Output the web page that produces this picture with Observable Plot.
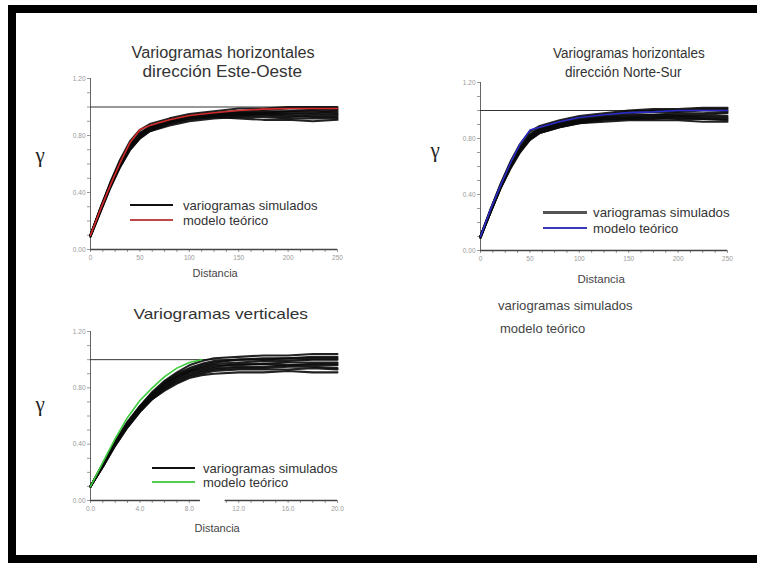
<!DOCTYPE html>
<html>
<head>
<meta charset="utf-8">
<script src="https://cdn.jsdelivr.net/npm/d3@7"></script>
<script src="https://cdn.jsdelivr.net/npm/@observablehq/plot@0.6"></script>
<style>
  html, body { margin: 0; padding: 0; background: #fff; overflow: hidden; font-family: "Liberation Sans", Arial, sans-serif; }
  #page { position: relative; width: 757px; height: 563px; overflow: hidden; background: #fff; }
  .frame { position: absolute; left: 8px; top: 5px; width: 741px; height: 542px; box-sizing: content-box;
           border-left: 8px solid #000; border-top: 8px solid #000; border-bottom: 8px solid #000; border-right: 0; }
  .t { position: absolute; white-space: nowrap; color: #333; line-height: 1; }
  .sw { position: absolute; height: 2px; }
  svg { position: absolute; overflow: visible; }
</style>
</head>
<body>
<div id="page"><div class="frame"></div></div>
<script>
// Sill of the theoretical model (normalised variance)
const sill = 1.0;

// --- Horizontal variograms, East-West direction ---
const distEO = [0, 10, 20, 30, 40, 50, 60, 80, 100, 125, 150, 175, 200, 225, 250];
const modelEO = [0.10, 0.28, 0.45, 0.61, 0.75, 0.84, 0.87, 0.91, 0.94, 0.96, 0.975, 0.985, 0.99, 0.99, 0.99];
const simEO = [
  [0.10, 0.29, 0.47, 0.63, 0.76, 0.84, 0.88, 0.92, 0.95, 0.97, 0.99, 0.99, 1.00, 1.00, 1.00],
  [0.10, 0.28, 0.45, 0.60, 0.72, 0.80, 0.85, 0.90, 0.93, 0.95, 0.96, 0.97, 0.97, 0.98, 0.98],
  [0.09, 0.27, 0.44, 0.59, 0.71, 0.79, 0.84, 0.89, 0.92, 0.94, 0.95, 0.96, 0.96, 0.96, 0.97],
  [0.10, 0.28, 0.46, 0.61, 0.73, 0.81, 0.86, 0.90, 0.93, 0.94, 0.94, 0.95, 0.95, 0.95, 0.95],
  [0.10, 0.27, 0.44, 0.58, 0.70, 0.78, 0.83, 0.88, 0.91, 0.93, 0.94, 0.94, 0.93, 0.94, 0.94],
  [0.09, 0.26, 0.43, 0.58, 0.70, 0.78, 0.83, 0.87, 0.90, 0.92, 0.93, 0.93, 0.92, 0.92, 0.92],
  [0.10, 0.28, 0.45, 0.60, 0.72, 0.80, 0.85, 0.89, 0.92, 0.93, 0.92, 0.91, 0.91, 0.90, 0.91],
  [0.10, 0.29, 0.46, 0.62, 0.74, 0.82, 0.86, 0.91, 0.94, 0.96, 0.97, 0.98, 0.99, 0.99, 0.99],
  [0.10, 0.27, 0.45, 0.60, 0.72, 0.80, 0.84, 0.89, 0.92, 0.94, 0.95, 0.95, 0.94, 0.93, 0.93],
  [0.10, 0.28, 0.46, 0.61, 0.73, 0.81, 0.85, 0.90, 0.93, 0.95, 0.96, 0.96, 0.97, 0.97, 0.96]
];

// --- Horizontal variograms, North-South direction ---
const distNS = [0, 10, 20, 30, 40, 50, 60, 80, 100, 125, 150, 175, 200, 225, 250];
const modelNS = [0.10, 0.29, 0.46, 0.62, 0.76, 0.86, 0.88, 0.92, 0.95, 0.97, 0.985, 0.99, 1.00, 1.00, 1.00];
const simNS = [
  [0.10, 0.29, 0.47, 0.63, 0.76, 0.85, 0.89, 0.93, 0.96, 0.98, 1.00, 1.01, 1.01, 1.02, 1.02],
  [0.10, 0.28, 0.45, 0.60, 0.72, 0.81, 0.86, 0.90, 0.93, 0.95, 0.96, 0.97, 0.97, 0.97, 0.98],
  [0.09, 0.27, 0.44, 0.59, 0.71, 0.79, 0.84, 0.88, 0.91, 0.93, 0.94, 0.94, 0.95, 0.94, 0.94],
  [0.10, 0.28, 0.46, 0.61, 0.73, 0.82, 0.87, 0.91, 0.94, 0.96, 0.98, 0.99, 0.99, 1.00, 1.00],
  [0.10, 0.27, 0.44, 0.58, 0.70, 0.79, 0.84, 0.88, 0.91, 0.92, 0.93, 0.93, 0.93, 0.92, 0.92],
  [0.09, 0.27, 0.44, 0.59, 0.71, 0.80, 0.85, 0.89, 0.92, 0.94, 0.95, 0.96, 0.96, 0.96, 0.96],
  [0.10, 0.28, 0.45, 0.60, 0.72, 0.81, 0.86, 0.90, 0.92, 0.94, 0.95, 0.95, 0.96, 0.95, 0.95],
  [0.10, 0.29, 0.46, 0.62, 0.74, 0.83, 0.88, 0.92, 0.95, 0.97, 0.99, 1.00, 1.00, 1.01, 1.01],
  [0.10, 0.27, 0.45, 0.60, 0.72, 0.80, 0.85, 0.89, 0.92, 0.94, 0.94, 0.95, 0.94, 0.94, 0.93],
  [0.10, 0.28, 0.46, 0.61, 0.73, 0.82, 0.86, 0.91, 0.93, 0.95, 0.97, 0.97, 0.98, 0.98, 0.99]
];

// --- Vertical variograms ---
const distV = [0, 1, 2, 3, 4, 5, 6, 7, 8, 9, 10, 12, 14, 16, 18, 20];
const distModelV = [0, 1, 2, 3, 4, 5, 6, 7, 8, 9];
const modelV = [0.10, 0.27, 0.44, 0.59, 0.71, 0.80, 0.88, 0.94, 0.98, 1.00];
const simV = [
  [0.10, 0.26, 0.42, 0.56, 0.67, 0.77, 0.85, 0.91, 0.96, 0.99, 1.01, 1.02, 1.03, 1.03, 1.04, 1.04],
  [0.10, 0.25, 0.40, 0.54, 0.65, 0.75, 0.82, 0.88, 0.92, 0.95, 0.97, 0.98, 0.99, 0.99, 1.00, 1.00],
  [0.10, 0.25, 0.40, 0.53, 0.64, 0.73, 0.80, 0.86, 0.90, 0.92, 0.94, 0.95, 0.95, 0.96, 0.96, 0.96],
  [0.10, 0.24, 0.39, 0.52, 0.63, 0.72, 0.79, 0.84, 0.88, 0.90, 0.92, 0.93, 0.93, 0.93, 0.94, 0.93],
  [0.10, 0.25, 0.41, 0.55, 0.66, 0.76, 0.83, 0.89, 0.93, 0.96, 0.98, 1.00, 1.01, 1.01, 1.02, 1.02],
  [0.10, 0.24, 0.39, 0.52, 0.63, 0.72, 0.78, 0.83, 0.87, 0.89, 0.90, 0.91, 0.91, 0.92, 0.91, 0.91],
  [0.10, 0.25, 0.40, 0.54, 0.65, 0.74, 0.81, 0.87, 0.91, 0.93, 0.95, 0.97, 0.97, 0.98, 0.98, 0.98],
  [0.10, 0.25, 0.41, 0.55, 0.66, 0.75, 0.83, 0.88, 0.92, 0.94, 0.96, 0.96, 0.97, 0.96, 0.97, 0.97],
  [0.10, 0.24, 0.40, 0.53, 0.64, 0.73, 0.80, 0.85, 0.89, 0.91, 0.93, 0.94, 0.94, 0.95, 0.95, 0.94],
  [0.10, 0.26, 0.41, 0.55, 0.67, 0.76, 0.84, 0.90, 0.94, 0.97, 0.99, 1.00, 1.00, 1.01, 1.01, 1.01]
];

// Axis ticks
const yMajor = [0, 0.4, 0.8, 1.2];
const xTicksH = [0, 50, 100, 150, 200, 250];
const xTicksV = [0, 4, 8, 12, 16, 20];

const page = document.getElementById("page");

function panel(cfg) {
  const rows = cfg.sims.flatMap((s, k) => s.map((g, i) => ({d: cfg.dist[i], g, run: k})));
  const modelRows = cfg.model.map((g, i) => ({d: cfg.modelDist[i], g}));
  const yMinor = d3.range(0, 13).map(i => i / 10);
  const isMajorY = v => yMajor.some(m => Math.abs(m - v) < 1e-9);
  const xMinor = d3.range(0, Math.round(cfg.xDomain[1] / cfg.xStep) + 1).map(i => i * cfg.xStep)
    .filter(v => !cfg.gap || v < cfg.gap[0] || v > cfg.gap[1]);
  const isMajorX = v => cfg.xTicks.some(m => Math.abs(m - v) < 1e-9);
  const segs = cfg.gap ? [[cfg.xDomain[0], cfg.gap[0]], [cfg.gap[1], cfg.xDomain[1]]] : [cfg.xDomain];

  const svg = Plot.plot({
    width: cfg.width, height: cfg.height,
    marginLeft: cfg.ml, marginRight: cfg.mr, marginTop: cfg.mt, marginBottom: cfg.mb,
    style: {fontFamily: "Liberation Sans, Arial, sans-serif", background: "transparent"},
    x: {domain: cfg.xDomain},
    y: {domain: [0, 1.2]},
    marks: [
      Plot.axisY(yMinor, {tickSize: 3, tickPadding: 2, fontSize: 6.5, color: "#999", label: null,
        tickFormat: v => isMajorY(v) ? v.toFixed(2) : ""}),
      Plot.axisX(xMinor, {tickSize: 3, tickPadding: 3, fontSize: 6.5, color: "#999", label: null,
        tickFormat: v => isMajorX(v) ? cfg.xFormat(v) : ""}),
      Plot.ruleY(segs, {x1: s => s[0], x2: s => s[1], y: 0, stroke: "#444", strokeWidth: 1.3}),
      Plot.ruleX([0], {y1: 0, y2: 1.2, stroke: "#666"}),
      Plot.ruleY([sill], {stroke: "#333", strokeWidth: 1}),
      Plot.line(rows, {x: "d", y: "g", z: "run", stroke: "#0a0a0a", strokeWidth: 2.1, strokeOpacity: 0.9}),
      Plot.line(modelRows, {x: "d", y: "g", stroke: cfg.color, strokeWidth: 1.6})
    ]
  });
  svg.style.left = cfg.left + "px";
  svg.style.top = cfg.top + "px";
  page.appendChild(svg);
}

function text(s, x, y, size, opt = {}) {
  const el = document.createElement("div");
  el.className = "t";
  el.textContent = s;
  el.style.fontSize = size + "px";
  if (opt.family) el.style.fontFamily = opt.family;
  if (opt.color) el.style.color = opt.color;
  page.appendChild(el);
  const w = el.offsetWidth, h = el.offsetHeight;
  const sx = opt.width ? opt.width / w : 1;
  const anchorX = opt.anchor === "start" ? 0 : w / 2;
  el.style.left = (x - anchorX) + "px";
  el.style.top = (y - h / 2) + "px";
  el.style.transformOrigin = opt.anchor === "start" ? "0 50%" : "50% 50%";
  if (sx !== 1) el.style.transform = `scaleX(${sx})`;
}

function swatch(x1, x2, y, color, w = 2) {
  const el = document.createElement("div");
  el.className = "sw";
  el.style.left = x1 + "px";
  el.style.width = (x2 - x1) + "px";
  el.style.top = (y - w / 2) + "px";
  el.style.height = w + "px";
  el.style.background = color;
  page.appendChild(el);
}

const fmtH = v => String(v);
const fmtV = v => v.toFixed(1);

// East-West
panel({dist: distEO, sims: simEO, model: modelEO, modelDist: distEO, color: "#d42a2a",
  xDomain: [0, 250], xTicks: xTicksH, xStep: 12.5, xFormat: fmtH,
  left: 40, top: 70, width: 310, height: 200, ml: 50, mr: 13, mt: 8, mb: 21});
// North-South
panel({dist: distNS, sims: simNS, model: modelNS, modelDist: distNS, color: "#2b2bc8",
  xDomain: [0, 250], xTicks: xTicksH, xStep: 12.5, xFormat: fmtH,
  left: 430, top: 72, width: 310, height: 200, ml: 50, mr: 13, mt: 10, mb: 22});
// Vertical
panel({dist: distV, sims: simV, model: modelV, modelDist: distModelV, color: "#3ccc3c",
  xDomain: [0, 20], xTicks: xTicksV, xStep: 1, xFormat: fmtV, gap: [8.9, 10.9],
  left: 40, top: 320, width: 310, height: 200, ml: 50, mr: 13, mt: 11, mb: 20});

// Titles
text("Variogramas horizontales", 223, 53, 16, {width: 183});
text("dirección Este-Oeste", 222, 72, 16, {width: 160});
text("Variogramas horizontales", 629, 53, 14, {width: 152});
text("dirección Norte-Sur", 623, 72, 14, {width: 117});
text("Variogramas verticales", 220, 313, 15, {width: 174});

// γ axis labels
const serif = "'Liberation Serif', 'DejaVu Serif', serif";
text("γ", 40, 155, 21, {family: serif, color: "#222"});
text("γ", 435, 150, 21, {family: serif, color: "#222"});
text("γ", 40, 404, 21, {family: serif, color: "#222"});

// Distance labels
text("Distancia", 215, 273, 11, {color: "#444"});
text("Distancia", 601, 280, 11.5, {color: "#444"});
text("Distancia", 217, 528, 11, {color: "#444"});

// Legends
swatch(130, 173, 205, "#111");
swatch(130, 173, 220, "#c04848");
text("variogramas simulados", 183, 205, 13, {anchor: "start", width: 135});
text("modelo teórico", 183, 220, 13, {anchor: "start"});

swatch(543, 587, 212, "#555", 3);
swatch(543, 587, 228, "#3a3ab8");
text("variogramas simulados", 593, 212, 13, {anchor: "start", width: 137});
text("modelo teórico", 593, 228, 13, {anchor: "start"});

swatch(152, 195, 468, "#111");
swatch(152, 195, 482, "#55cc55");
text("variogramas simulados", 203, 468, 13, {anchor: "start", width: 135});
text("modelo teórico", 203, 482, 13, {anchor: "start"});

text("variogramas simulados", 498, 305, 13, {anchor: "start", width: 135, color: "#444"});
text("modelo teórico", 500, 328, 13, {anchor: "start", color: "#444"});
</script>
</body>
</html>
